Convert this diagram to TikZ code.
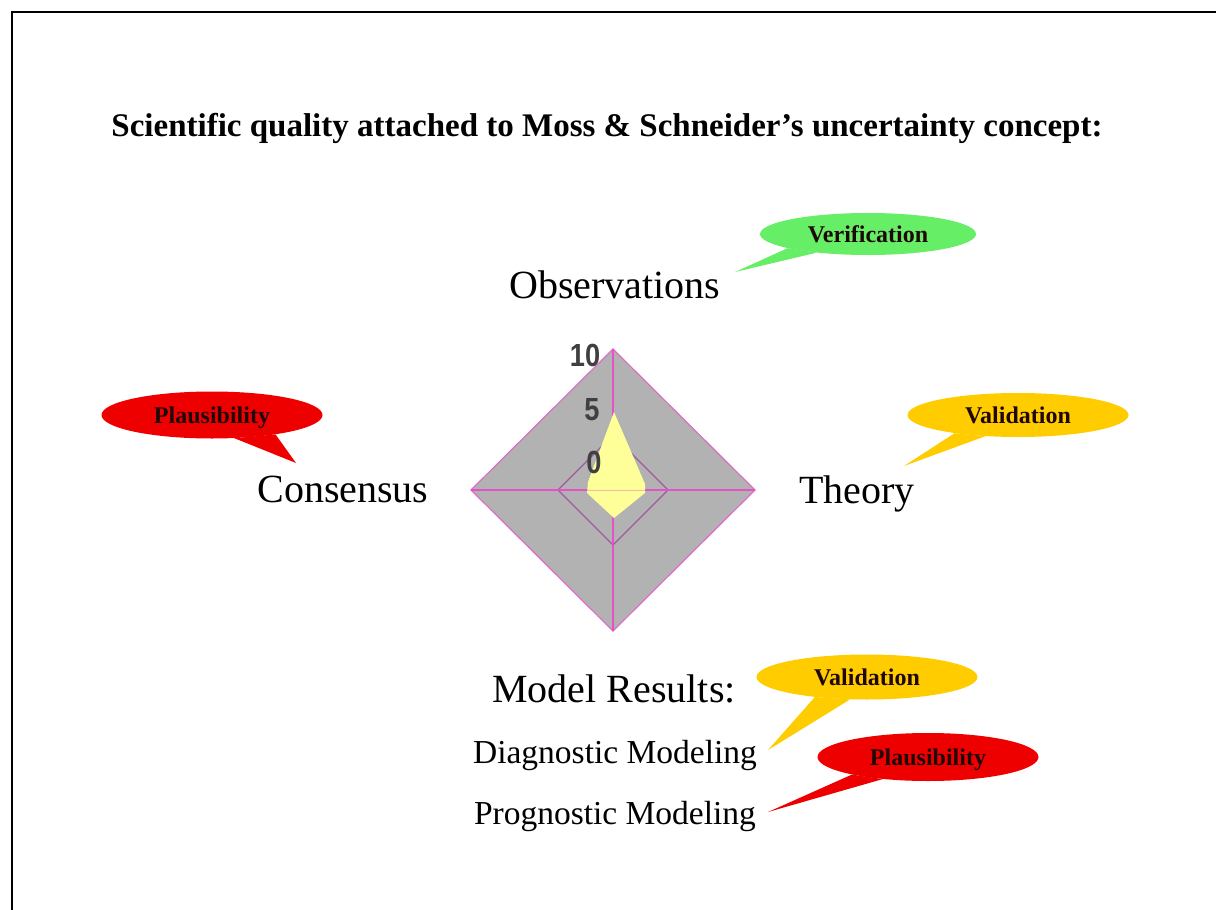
\documentclass[tikz,border=0pt]{standalone}
\usepackage{fontspec}
\setmainfont{Liberation Serif}
\newfontfamily\ticksfont{Liberation Sans}
\usetikzlibrary{shapes.geometric}

\definecolor{chartgrey}{HTML}{B2B2B2}
\definecolor{chartyellow}{HTML}{FFFF99}
\definecolor{spokecol}{HTML}{E650C8}
\definecolor{outercol}{HTML}{DC6EC8}
\definecolor{innercol}{HTML}{A05AA0}
\definecolor{tickgrey}{HTML}{404040}
\definecolor{verifgreen}{HTML}{66EE66}
\definecolor{plausred}{HTML}{EE0000}
\definecolor{validorange}{HTML}{FFCC00}
\definecolor{bubbletext}{HTML}{200808}

\begin{document}
\begin{tikzpicture}[x=1pt,y=-1pt,
    axislabel/.style={font=\fontsize{40}{48}\selectfont, anchor=base, inner sep=0pt},
    modellabel/.style={font=\fontsize{33.5}{40}\selectfont, anchor=base, inner sep=0pt},
    bubble/.style={ellipse, inner sep=0pt, minimum width=221pt, minimum height=45pt, text depth=0pt,
        text=bubbletext, font=\fontsize{24}{28}\selectfont\bfseries},
    ticklabel/.style={font=\ticksfont\bfseries\fontsize{32}{38}\selectfont, text=tickgrey, inner sep=0pt}
    ]

    \useasboundingbox (0,0) rectangle (1216,910);
    \draw[line width=2.5pt] (12,910) -- (12,12) -- (1216,12);

    \node[font=\fontsize{33}{40}\selectfont\bfseries, anchor=base] (title) at (607,136)
        {Scientific quality attached to Moss \& Schneider’s uncertainty concept:};

    % radar chart
    \coordinate (c) at (613,490);
    \coordinate (otop) at (613,349);
    \coordinate (oright) at (755,490);
    \coordinate (obottom) at (613,631);
    \coordinate (oleft) at (471,490);
    \fill[chartgrey] (otop) -- (oright) -- (obottom) -- (oleft) -- cycle;
    \draw[innercol, line width=1.2pt] (613,435) -- (668,490) -- (613,545) -- (558,490) -- cycle;
    \draw[outercol, line width=1.2pt] (otop) -- (oright) -- (obottom) -- (oleft) -- cycle;
    \draw[spokecol, line width=1.5pt] (oleft) -- (oright);
    \draw[spokecol, line width=1.5pt] (otop) -- (obottom);
    \fill[chartyellow] (614,412) -- (645,484) -- (645,493) -- (614,518) -- (587,493) -- (588,482) -- cycle;
    \draw[spokecol!40!chartyellow, line width=1pt] (587,490) -- (645,490);

    \node[ticklabel] (t10) at (585,355) {\scalebox{0.85}[1]{10}};
    \node[ticklabel] (t5) at (592,410) {\scalebox{0.85}[1]{5}};
    \node[ticklabel] (t0) at (594,462) {\scalebox{0.85}[1]{0}};

    % axis names
    \node[axislabel] (obs) at (615,298) {Observations};
    \node[axislabel] (cons) at (343,502) {Consensus};
    \node[axislabel] (theo) at (857,503) {Theory};
    \node[axislabel] (model) at (614,702) {Model Results:};
    \node[modellabel] (diag) at (615,763) {Diagnostic Modeling};
    \node[modellabel] (prog) at (615,824) {Prognostic Modeling};

    % speech bubbles
    \coordinate (vertip) at (735,272);
    \coordinate (plltip) at (296,463);
    \coordinate (valrtip) at (904,466);
    \coordinate (valbtip) at (768,750);
    \coordinate (plbtip) at (768,812);

    \node[bubble, fill=verifgreen, minimum width=216pt, minimum height=42pt] (ver) at (868,234) {Verification};
    \fill[verifgreen] (ver.190) -- (vertip) -- (ver.200) -- cycle;

    \node[bubble, fill=plausred, minimum height=47pt] (pll) at (212,415) {Plausibility};
    \fill[plausred] (pll.314) -- (plltip) -- (pll.343) -- cycle;

    \node[bubble, fill=validorange, minimum height=44pt] (valr) at (1018,415) {Validation};
    \fill[validorange] (valr.196) -- (valrtip) -- (valr.213) -- cycle;

    \node[bubble, fill=validorange] (valb) at (867,677) {Validation};
    \fill[validorange] (valb.201) -- (valbtip) -- (valb.233) -- cycle;

    \node[bubble, fill=plausred, minimum height=48pt] (plb) at (928,757) {Plausibility};
    \fill[plausred] (plb.193) -- (plbtip) -- (plb.206) -- cycle;
    %
\end{tikzpicture}
\end{document}
